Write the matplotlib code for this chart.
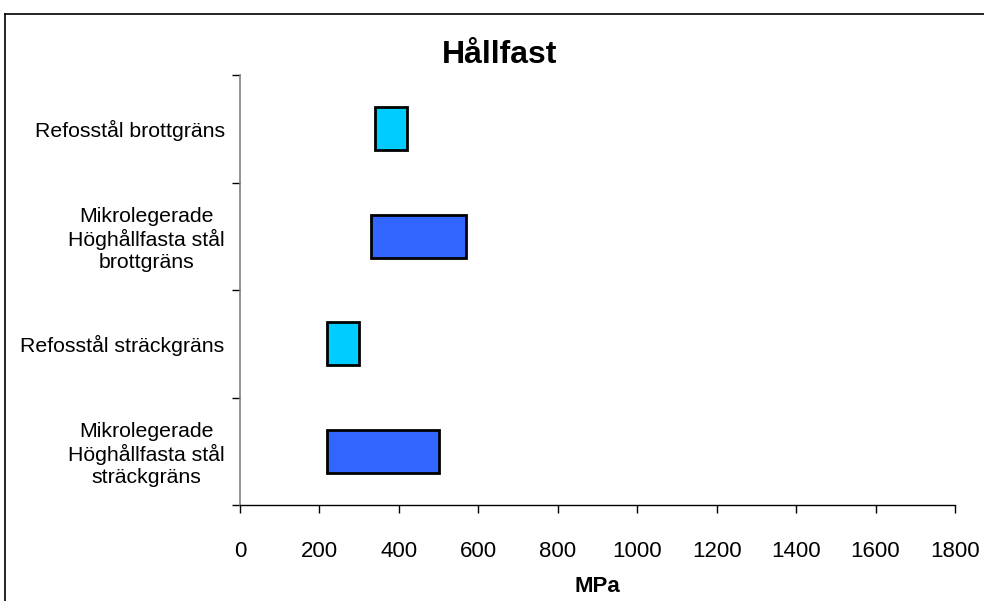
import matplotlib.pyplot as plt
from matplotlib.lines import Line2D

plt.rcParams['font.family'] = ['Liberation Sans', 'DejaVu Sans']

# intervall i MPa, nedifrån och upp
kategorier = ["Mikrolegerade\nHöghållfasta stål\nsträckgräns",
              "Refosstål sträckgräns",
              "Mikrolegerade\nHöghållfasta stål\nbrottgräns",
              "Refosstål brottgräns"]
min_mpa = [220, 220, 330, 340]
max_mpa = [500, 300, 570, 420]
farger = ['#3366FF', '#00CCFF', '#3366FF', '#00CCFF']

fig = plt.figure(figsize=(9.84, 6.01), dpi=100)
ax = fig.add_axes([240 / 984, 1 - 505 / 601, 715 / 984, 430 / 601])

pos = list(range(len(kategorier)))
bredd = [hi - lo for lo, hi in zip(min_mpa, max_mpa)]
ax.barh(pos, bredd, left=min_mpa, height=0.4, color=farger,
        edgecolor='black', linewidth=2, zorder=3)

ax.set_xlim(0, 1800)
ax.set_xticks(range(0, 1801, 200))
ax.set_ylim(-0.5, len(kategorier) - 0.5)

# streck mellan kategorierna, etiketter i mitten
ax.set_yticks([i - 0.5 for i in range(len(kategorier) + 1)])
ax.set_yticklabels([])
ax.set_yticks(pos, minor=True)
ax.set_yticklabels(kategorier, minor=True, fontsize=15.3, linespacing=1.2,
                   multialignment='center')
ax.tick_params(axis='y', which='minor', length=0, pad=11)
ax.tick_params(axis='y', which='major', length=6, width=1, color='black')
ax.tick_params(axis='x', length=6, width=1, pad=20, labelsize=16)

for s in ['top', 'right']:
    ax.spines[s].set_visible(False)
ax.spines['left'].set_color('#808080')
ax.spines['left'].set_linewidth(1.2)
ax.spines['bottom'].set_linewidth(1)

ax.set_xlabel('MPa', fontsize=16, fontweight='bold', labelpad=10)
fig.text(500 / 984, 1 - 55 / 601, 'Hållfast', fontsize=23, fontweight='bold',
         ha='center', va='center')

# ram runt diagramytan
fig.add_artist(Line2D([5 / 984, 5 / 984], [0, 1 - 14 / 601], color='black',
                      linewidth=1.2, transform=fig.transFigure))
fig.add_artist(Line2D([5 / 984, 1], [1 - 14 / 601, 1 - 14 / 601], color='black',
                      linewidth=1.2, transform=fig.transFigure))

fig.savefig('out.png', dpi=100)
